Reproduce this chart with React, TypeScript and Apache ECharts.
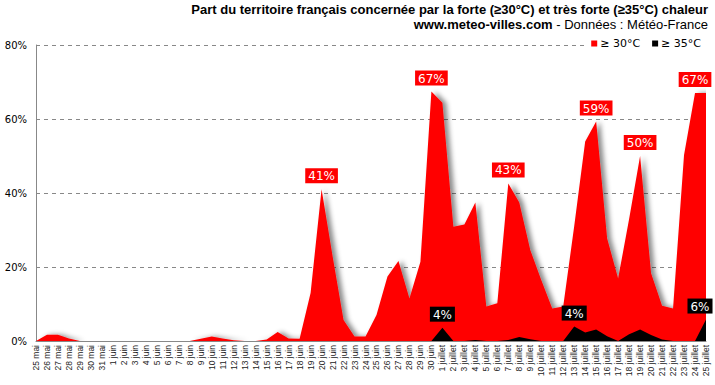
import React, { useEffect, useRef } from "react";
import * as echarts from "echarts";

const mai = ["25", "26", "27", "28", "29", "30", "31"].map((d) => d + " mai");
const juin = Array.from({ length: 30 }, (_, i) => `${i + 1} juin`);
const juillet = Array.from({ length: 25 }, (_, i) => `${i + 1} juillet`);
const categories = [...mai, ...juin, ...juillet];

// ≥ 30°C (% du territoire)
const hot30 = [
  0, 1.7, 1.7, 0.7, 0, 0, 0,
  0, 0, 0, 0, 0, 0, 0, 0, 0.6, 1.2, 0.7, 0.2, 0, 0, 0.4, 2.4, 0.7, 0.6, 13, 41,
  23, 5.7, 1.2, 1.2, 7, 17.4, 21.6, 11.5, 21.4, 67.4,
  64.4, 30.9, 31.5, 37.4, 9.3, 10.2, 42.6, 37.4, 24.6, 16.5, 8.8, 9.3, 31, 53.9,
  59.3, 27.7, 16.9, 33, 50, 18.3, 9.5, 8.8, 50.3, 67, 67,
];

// ≥ 35°C (% du territoire)
const hot35 = [
  0, 0, 0, 0, 0, 0, 0,
  0, 0, 0, 0, 0, 0, 0, 0, 0, 0, 0, 0, 0, 0, 0, 0, 0, 0, 0, 0,
  0, 0, 0, 0, 0, 0, 0, 0, 0, 0,
  3.6, 0, 0, 0.3, 0, 0, 0.3, 1.1, 0.5, 0, 0, 0, 3.9, 2.3,
  3.1, 1.3, 0, 1.8, 3.1, 1.6, 0.4, 0, 0, 0, 5.8,
];

const labels30 = [26, 36, 43, 51, 55, 60];
const labels35 = [37, 49, 61];

const yTicks = [0, 20, 40, 60, 80];

const FONT = "DejaVu Sans";
const TFONT = 13;

export default function App() {
  const ref = useRef<HTMLDivElement>(null);
  useEffect(() => {
    document.body.style.margin = "0";
    if (!ref.current) return;
    const chart = echarts.init(ref.current, null, { renderer: "svg" });
    const labelBase = {
      show: true,
      position: "top",
      distance: 6,
      color: "#fff",
      fontFamily: FONT,
      fontSize: 12,
      padding: [2, 3, 1, 3],
      formatter: (p: any) => `${Math.round(p.value)}%`,
    };
    const mk = (arr: number[], idx: number[], bg: string) =>
      arr.map((v, i) =>
        idx.includes(i)
          ? {
              value: v,
              label: {
                ...labelBase,
                backgroundColor: bg,
                offset: i === 61 ? [-6, 0] : [0, 0],
              },
            }
          : v
      );
    chart.setOption({
      animation: false,
      title: [
        {
          text: "Part du territoire français concernée par la forte (≥30°C) et très forte (≥35°C) chaleur",
          right: 7,
          top: 3,
          padding: 0,
          textStyle: {
            fontFamily: "Liberation Sans",
            fontWeight: "bold",
            fontSize: TFONT,
            color: "#000",
          },
        },
        {
          text: "{b|www.meteo-villes.com} - Données : Météo-France",
          right: 7,
          top: 18,
          padding: 0,
          textStyle: {
            fontFamily: "Liberation Sans",
            fontWeight: "normal",
            fontSize: TFONT,
            color: "#000",
            rich: {
              b: { fontFamily: "Liberation Sans", fontWeight: "bold", fontSize: TFONT, color: "#000" },
            },
          },
        },
      ],
      legend: {
        right: 10,
        top: 37,
        icon: "rect",
        itemWidth: 6,
        itemHeight: 6,
        itemGap: 12,
        backgroundColor: "#fff",
        padding: [1, 4],
        textStyle: { fontFamily: FONT, fontSize: 11, color: "#000", padding: [0, 0, 0, -2] },
        data: ["≥ 30°C", "≥ 35°C"],
      },
      grid: { left: 36, right: 9, top: 45, bottom: 44 },
      xAxis: {
        type: "category",
        data: categories,
        boundaryGap: false,
        axisLine: { lineStyle: { color: "#888", width: 1 } },
        axisTick: { show: false },
        axisLabel: {
          interval: 0,
          rotate: 90,
          fontFamily: "Liberation Sans",
          fontSize: 8.5,
          color: "#222",
          margin: 4,
        },
      },
      yAxis: {
        type: "value",
        min: 0,
        max: 80,
        interval: 20,
        axisLine: { show: true, lineStyle: { color: "#888" } },
        axisTick: { show: false },
        axisLabel: {
          fontFamily: FONT,
          fontSize: 10,
          color: "#000",
          margin: 9,
          formatter: (v: number) => (yTicks.includes(v) ? `${v}%` : ""),
        },
        splitLine: { lineStyle: { color: "#888", type: [4, 4] } },
      },
      series: [
        {
          name: "≥ 30°C",
          type: "line",
          data: mk(hot30, labels30, "#ff0000"),
          showSymbol: true,
          symbol: "circle",
          symbolSize: 0,
          itemStyle: { color: "#ff0000" },
          lineStyle: { width: 0, color: "#ff0000" },
          areaStyle: {
            color: "#ff0000",
            opacity: 1,
            shadowColor: "rgba(0,0,0,0.45)",
            shadowBlur: 5,
            shadowOffsetX: 4,
          },
          z: 2,
        },
        {
          name: "≥ 35°C",
          type: "line",
          data: mk(hot35, labels35, "#000000"),
          showSymbol: true,
          symbol: "circle",
          symbolSize: 0,
          itemStyle: { color: "#000" },
          lineStyle: { width: 0, color: "#000" },
          areaStyle: { color: "#000", opacity: 1 },
          z: 3,
        },
      ],
    });
    return () => chart.dispose();
  }, []);
  return <div ref={ref} style={{ width: 715, height: 385 }} />;
}
